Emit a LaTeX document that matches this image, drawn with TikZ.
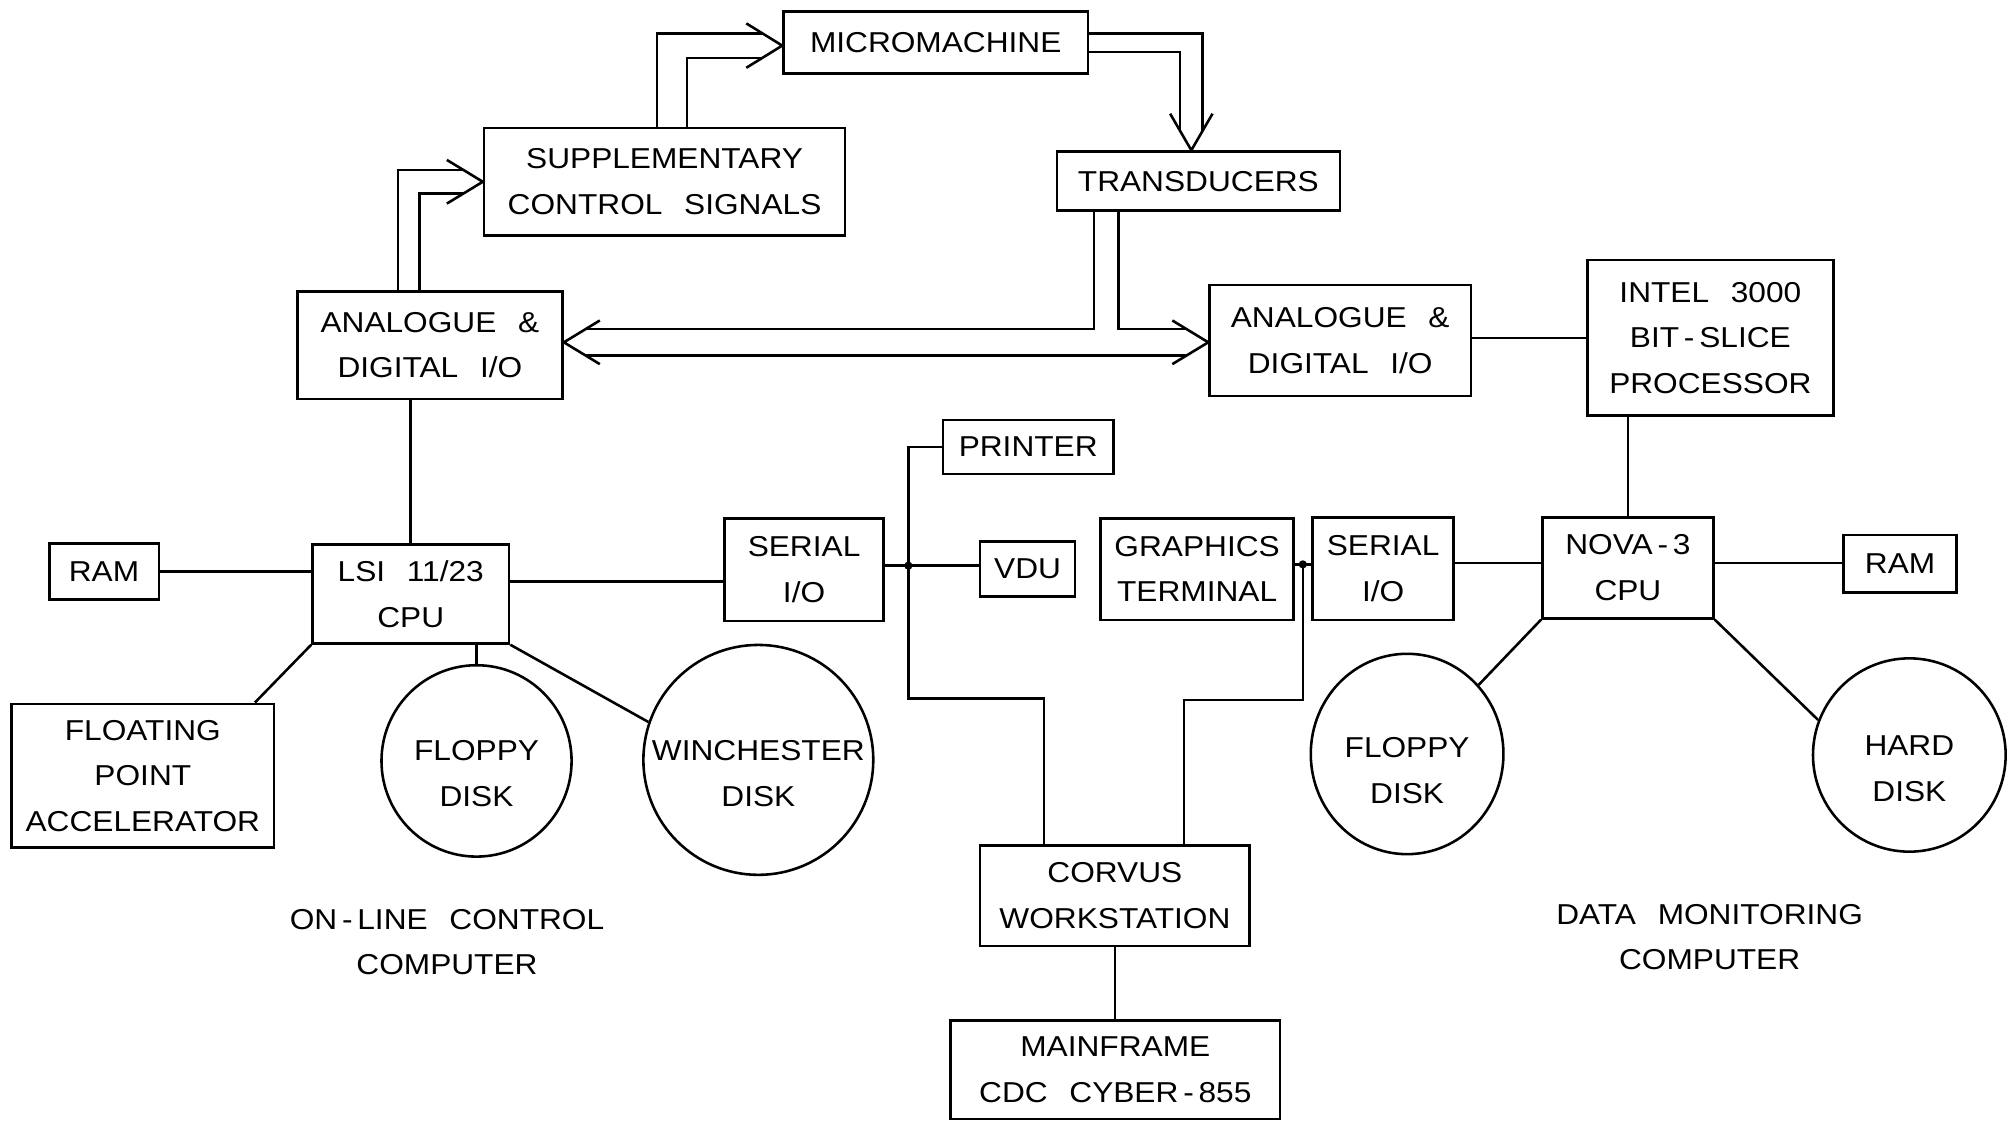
\documentclass[tikz,border=0pt]{standalone}
\usepackage{fontspec}
\setmainfont{Liberation Sans}[FakeStretch=1.1]
\usetikzlibrary{calc,shapes.geometric}
\newcommand{\wgap}{\ \hspace{0.45em}}
\begin{document}
\begin{tikzpicture}[x=0.5pt,y=-0.5pt,line width=1pt,
  every node/.style={font=\fontsize{11.2}{17.75}\selectfont, align=center, inner sep=0pt},
  box/.style 2 args={draw, minimum width=#1*0.5pt, minimum height=#2*0.5pt},
  disk/.style 2 args={draw, ellipse, minimum width=#1*0.5pt, minimum height=#2*0.5pt},
  dot/.style={fill=black}]
\useasboundingbox (0,0) rectangle (1568,873);

% ---- boxes ----
\node[box={237}{48}] (micro) at (728.5,33) {MICROMACHINE};
\node[box={281}{84}] (supp) at (517.4,141.5) {SUPPLEMENTARY\\CONTROL\wgap SIGNALS};
\node[box={220.5}{46}] (trans) at (933,141) {TRANSDUCERS};
\node[box={206.6}{83.6}] (aioL) at (334.7,268.8) {ANALOGUE\wgap\&\\DIGITAL\wgap I/O};
\node[box={203.4}{86.4}] (aioR) at (1043.4,265.2) {ANALOGUE\wgap\&\\DIGITAL\wgap I/O};
\node[box={191.6}{121.2}] (intel) at (1331.6,263) {INTEL\wgap 3000\\BIT\,-\,SLICE\\PROCESSOR};
\node[box={133}{42}] (printer) at (800.5,348) {PRINTER};
\node[box={85.3}{43.6}] (ramL) at (81,444.8) {RAM};
\node[box={153}{77.1}] (lsi) at (319.8,462.4) {LSI\wgap 11/23\\CPU};
\node[box={123.6}{80.1}] (serL) at (626,443.5) {SERIAL\\I/O};
\node[box={74}{42.8}] (vdu) at (800,443.1) {VDU};
\node[box={150}{79.1}] (graph) at (932,443.1) {GRAPHICS\\TERMINAL};
\node[box={109.7}{79.7}] (serR) at (1076.8,442.9) {SERIAL\\I/O};
\node[box={133.2}{78.6}] (nova) at (1267.4,442.1) {NOVA\,-\,3\\CPU};
\node[box={88.2}{44.9}] (ramR) at (1479.3,438.9) {RAM};
\node[box={204.5}{112}] (fpa) at (111.2,604) {FLOATING\\POINT\\ACCELERATOR};
\node[box={210}{78}] (corvus) at (868,697.4) {CORVUS\\WORKSTATION};
\node[box={256.6}{77}] (mainframe) at (868.3,832.8) {MAINFRAME\\CDC\wgap CYBER\,-\,855};

% ---- disks ----
\node[disk={148}{149}] (floppyL) at (371,592.4) {};
\node (floppyLt) at ($(floppyL)+(0,10)$) {FLOPPY\\DISK};
\node[disk={179}{179}] (winch) at (590.4,591.6) {};
\node (wincht) at ($(winch)+(0,10.5)$) {WINCHESTER\\DISK};
\node[disk={150}{156}] (floppyR) at (1095.5,587) {};
\node (floppyRt) at ($(floppyR)+(0,13)$) {FLOPPY\\DISK};
\node[disk={150}{150.5}] (hard) at (1486.5,587.8) {};
\node (hardt) at ($(hard)+(0,10.7)$) {HARD\\DISK};

% ---- captions ----
\node (onl) at (348,733.5) {ON\,-\,LINE\wgap CONTROL\\COMPUTER};
\node (dmc) at (1331,729.5) {DATA\wgap MONITORING\\COMPUTER};

% ---- double arrow: analogue I/O -> supplementary ----
\coordinate (T1) at (supp.west);
\draw ($(aioL.north)+(-25,0)$) |- ($(T1)+(-14.8,-9)$);
\draw ($(aioL.north)+(-8,0)$) |- ($(T1)+(-14.8,9)$);
\draw ($(T1)+(-28,-17)$) -- (T1) -- ($(T1)+(-28,17)$);

% ---- double arrow: supplementary -> micromachine ----
\coordinate (T2) at ($(micro.west)+(0,2.5)$);
\draw ($(supp.north)+(-6,0)$) |- ($(T2)+(-15.4,-9.5)$);
\draw ($(supp.north)+(17.5,0)$) |- ($(T2)+(-15.4,9.5)$);
\draw ($(T2)+(-28,-17.3)$) -- (T2) -- ($(T2)+(-28,17.3)$);

% ---- double arrow: micromachine -> transducers ----
\coordinate (T3) at ($(trans.north)+(-5.5,0)$);
\draw ($(micro.east)+(0,-7)$) -| ($(T3)+(8.7,-15)$);
\draw ($(micro.east)+(0,7.5)$) -| ($(T3)+(-8.7,-15)$);
\draw ($(T3)+(-16.5,-28.5)$) -- (T3) -- ($(T3)+(16.5,-28.5)$);

% ---- double bus between the two analogue I/O units ----
\coordinate (bus) at (0,266.5);
\coordinate (TL) at (aioL.east |- bus);
\coordinate (TR) at (aioR.west |- bus);
\draw ($(TL)+(17,10.3)$) -- ($(TR)+(-17,10.3)$);
\draw ($(TL)+(17,-10.3)$) -| ($(trans.south)+(-81.4,0)$);
\draw ($(trans.south)+(-62,0)$) |- ($(TR)+(-17,-10.3)$);
\draw ($(TL)+(28,-17)$) -- (TL) -- ($(TL)+(28,17)$);
\draw ($(TR)+(-28,-17)$) -- (TR) -- ($(TR)+(-28,17)$);

% ---- on-line control computer ----
\draw (lsi.north) -- (lsi.north |- aioL.south);
\draw (ramL.east) -- (ramL.east -| lsi.west);
\coordinate (c1) at ($(lsi.east)+(0,-9.5)$);
\draw (c1) -- (c1 -| serL.west);
\draw (lsi.south west) -- ($(fpa.north east)+(-16,0)$);
\draw (floppyL.north) -- (floppyL.north |- lsi.south);
\draw (lsi.south east) -- (winch.161);

% ---- serial links ----
\coordinate (J1) at (707.2,440.4);
\draw (J1 -| serL.east) -- (J1 -| vdu.west);
\coordinate (kL) at (812.7,543.7);
\draw (printer.west) -| (J1) |- (kL) -- (kL |- corvus.north);
\fill[dot] (J1) circle (1.6pt);
\coordinate (J2) at (1014.3,439.4);
\draw (J2 -| graph.east) -- (J2 -| serR.west);
\coordinate (kR) at (921.9,545);
\draw (J2) |- (kR) -- (kR |- corvus.north);
\fill[dot] (J2) circle (1.6pt);
\draw (corvus.south) -- (corvus.south |- mainframe.north);

% ---- data monitoring computer ----
\coordinate (h2) at (0,438.3);
\draw (serR.east |- h2) -- (nova.west |- h2);
\draw (nova.east |- h2) -- (ramR.west |- h2);
\draw (nova.north) -- (nova.north |- intel.south);
\draw (intel.west) -- (intel.west -| aioR.east);
\draw (nova.south west) -- (floppyR.44);
\draw (nova.south east) -- (hard.159);
\end{tikzpicture}
\end{document}
